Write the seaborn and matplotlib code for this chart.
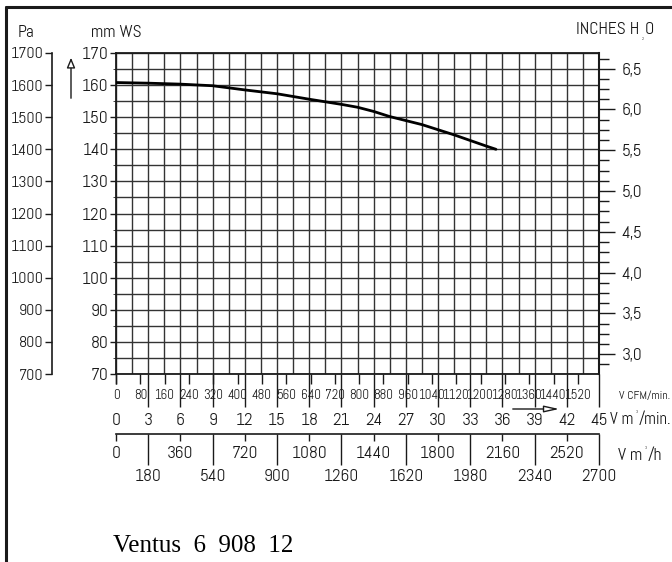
import numpy as np
import pandas as pd
import matplotlib
matplotlib.use("Agg")
import matplotlib.pyplot as plt
from matplotlib.ticker import FixedLocator, FuncFormatter, NullFormatter
import seaborn as sns

# ---- data ----
flow_m3min = [0, 3, 6, 9, 12, 15, 18, 21, 22.5, 24, 25.5, 28.5, 31.5, 34.5, 35.4]
pressure_mmws = [160.8, 160.6, 160.3, 159.8, 158.5, 157.3, 155.6, 154.0, 153.1, 151.8, 150.2, 147.7, 144.5, 141.0, 140.0]
m3min_ticks = list(range(0, 46, 3))
cfm_ticks = list(range(0, 1521, 80))
m3h_major = [180, 540, 900, 1260, 1620, 1980, 2340, 2700]
m3h_minor = [0, 360, 720, 1080, 1440, 1800, 2160, 2520]
mmws_ticks = list(range(70, 171, 10))
pa_ticks = list(range(700, 1701, 100))
inch_major = [3.0, 3.5, 4.0, 4.5, 5.0, 5.5, 6.0, 6.5]
title_text = "Ventus  6  908  12"

sns.set_style("white")
NARROW = ["Abel", "DejaVu Sans"]
plt.rcParams["font.family"] = NARROW
INK = "#1a1a1a"
GRID = "#333333"
FS = 12.5

W, H = 672, 562
fig = plt.figure(figsize=(W / 100, H / 100), dpi=100)
fig.patch.set_facecolor("white")

L, R, T, B = 116, 599, 53, 374
ax = fig.add_axes([L / W, 1 - B / H, (R - L) / W, (B - T) / H])
df = pd.DataFrame({"flow": flow_m3min, "p": pressure_mmws})
sns.lineplot(data=df, x="flow", y="p", ax=ax, color="black", linewidth=2.0, zorder=5)
ax.set_xlim(0, 45)
ax.set_ylim(70, 170)
ax.set_xlabel("")
ax.set_ylabel("")
for s in ax.spines.values():
    s.set_visible(True)
    s.set_color(INK)
    s.set_linewidth(1.3)

# grid
ax.xaxis.set_major_locator(FixedLocator(m3min_ticks))
ax.xaxis.set_minor_locator(FixedLocator(list(np.arange(1.5, 45, 3))))
ax.yaxis.set_major_locator(FixedLocator(mmws_ticks))
ax.yaxis.set_minor_locator(FixedLocator(list(range(75, 170, 10))))
ax.grid(which="both", color=GRID, linewidth=1.0)
ax.set_axisbelow(True)

ax.tick_params(axis="x", which="major", bottom=True, direction="out", length=23.8,
               width=1.0, color=INK, labelsize=FS, pad=4, labelcolor=INK)
ax.tick_params(axis="x", which="minor", bottom=False)
ax.tick_params(axis="y", which="major", left=True, direction="out", length=4.3,
               width=1.0, color=INK, labelsize=FS, pad=1, labelcolor=INK)
ax.tick_params(axis="y", which="minor", left=False)
ax.set_xticklabels([str(v) for v in m3min_ticks])
ax.set_yticklabels([str(v) for v in mmws_ticks])
ax.xaxis.get_major_ticks()[0].tick1line.set_markersize(7)

# CFM axis
cf = 35.3147
sec_cfm = ax.secondary_xaxis("bottom", functions=(lambda x: x * cf, lambda c: c / cf))
sec_cfm.xaxis.set_major_locator(FixedLocator(cfm_ticks))
sec_cfm.tick_params(axis="x", length=7.2, width=1.0, color=INK, labelsize=9.5, pad=3.5, labelcolor=INK)
sec_cfm.spines["bottom"].set_visible(False)

# m3/h axis
sec_h = ax.secondary_xaxis((374 - 434) / (B - T), functions=(lambda x: x * 60, lambda h: h / 60))
sec_h.xaxis.set_major_locator(FixedLocator(m3h_major))
sec_h.xaxis.set_minor_locator(FixedLocator(m3h_minor))
sec_h.xaxis.set_minor_formatter(FuncFormatter(lambda v, p: f"{int(round(v))}"))
sec_h.tick_params(axis="x", which="major", length=22, width=1.0, color=INK, labelsize=FS, pad=3, labelcolor=INK)
sec_h.tick_params(axis="x", which="minor", length=5, width=1.0, color=INK, labelsize=FS, pad=3.6, labelcolor=INK)
sec_h.spines["bottom"].set_color(INK)
sec_h.spines["bottom"].set_linewidth(1.2)

# Pa axis
ax_pa = ax.twinx()
ax_pa.set_ylim(700, 1700)
for k in ["top", "bottom", "right"]:
    ax_pa.spines[k].set_visible(False)
ax_pa.spines["left"].set_visible(True)
ax_pa.spines["left"].set_position(("axes", (52 - L) / (R - L)))
ax_pa.spines["left"].set_color(INK)
ax_pa.spines["left"].set_linewidth(1.2)
ax_pa.yaxis.set_ticks_position("left")
ax_pa.yaxis.set_label_position("left")
ax_pa.yaxis.set_major_locator(FixedLocator(pa_ticks))
ax_pa.set_yticklabels([str(v) for v in pa_ticks])
ax_pa.tick_params(axis="y", which="major", left=True, right=False, direction="out", length=5,
                  width=1.0, color=INK, labelsize=11.5, pad=1, labelcolor=INK)
ax_pa.grid(False)

# Inches H2O axis
ax_in = ax.twinx()
ax_in.set_ylim(70 / 25.4, 170 / 25.4)
for k in ["top", "bottom", "left"]:
    ax_in.spines[k].set_visible(False)
ax_in.spines["right"].set_visible(True)
ax_in.spines["right"].set_color(INK)
ax_in.spines["right"].set_linewidth(1.5)
ax_in.yaxis.set_major_locator(FixedLocator(inch_major))
ax_in.yaxis.set_minor_locator(FixedLocator(list(np.arange(2.875, 6.7, 0.125))))
ax_in.yaxis.set_major_formatter(FuncFormatter(lambda v, p: f"{v:.1f}".replace(".", ",")))
ax_in.yaxis.set_minor_formatter(NullFormatter())
ax_in.tick_params(axis="y", which="major", right=True, direction="out", length=11.5,
                  width=1.0, color=INK, labelsize=FS, pad=5, labelcolor=INK)
ax_in.tick_params(axis="y", which="minor", right=True, direction="out", length=7.2,
                  width=1.0, color=INK)
ax_in.grid(False)

# texts (figure pixel coords)
def ftext(x, y, s, **kw):
    fig.text(x / W, 1 - y / H, s, **kw)

ftext(18, 33, "Pa", fontsize=FS, ha="left", va="center", color=INK)
ftext(91, 33, "mm WS", fontsize=FS, ha="left", va="center", color=INK)
ftext(639, 30, "INCHES H", fontsize=FS, ha="right", va="center", color=INK)
ftext(643, 39, "2", fontsize=3, ha="center", va="center", color=INK)
ftext(645, 30, "O", fontsize=FS, ha="left", va="center", color=INK)
ftext(670, 396, "V CFM/min.", fontsize=8.5, ha="right", va="center", color=INK)
ftext(633, 420, "V m", fontsize=12, ha="right", va="center", color=INK)
ftext(637, 412, "3", fontsize=3, ha="center", va="center", color=INK)
ftext(639, 420, "/min.", fontsize=12, ha="left", va="center", color=INK)
ftext(642, 456, "V m", fontsize=FS, ha="right", va="center", color=INK)
ftext(646, 448, "3", fontsize=3, ha="center", va="center", color=INK)
ftext(648, 456, "/h", fontsize=FS, ha="left", va="center", color=INK)
ftext(113, 546, title_text, fontsize=18, ha="left", va="center", color="black",
      family=["Liberation Serif", "DejaVu Serif"])

# arrows
def fxy(x, y):
    return (x / W, 1 - y / H)

fig.add_artist(matplotlib.patches.FancyArrowPatch(fxy(71, 101), fxy(71, 55), transform=fig.transFigure,
               arrowstyle="-|>,head_length=6,head_width=2.5", fc="white", ec=INK, lw=1.0))
fig.add_artist(matplotlib.patches.FancyArrowPatch(fxy(510, 409), fxy(562, 409), transform=fig.transFigure,
               arrowstyle="-|>,head_length=9,head_width=2", fc="white", ec=INK, lw=1.0))

# border
fig.add_artist(matplotlib.lines.Line2D([5.5 / W, 5.5 / W], [0, 1 - 6.5 / H], transform=fig.transFigure,
               color=INK, lw=2.2))
fig.add_artist(matplotlib.lines.Line2D([5.5 / W, 1], [1 - 6.5 / H, 1 - 6.5 / H], transform=fig.transFigure,
               color=INK, lw=2.2))

fig.savefig("out.png", dpi=100, facecolor="white")
